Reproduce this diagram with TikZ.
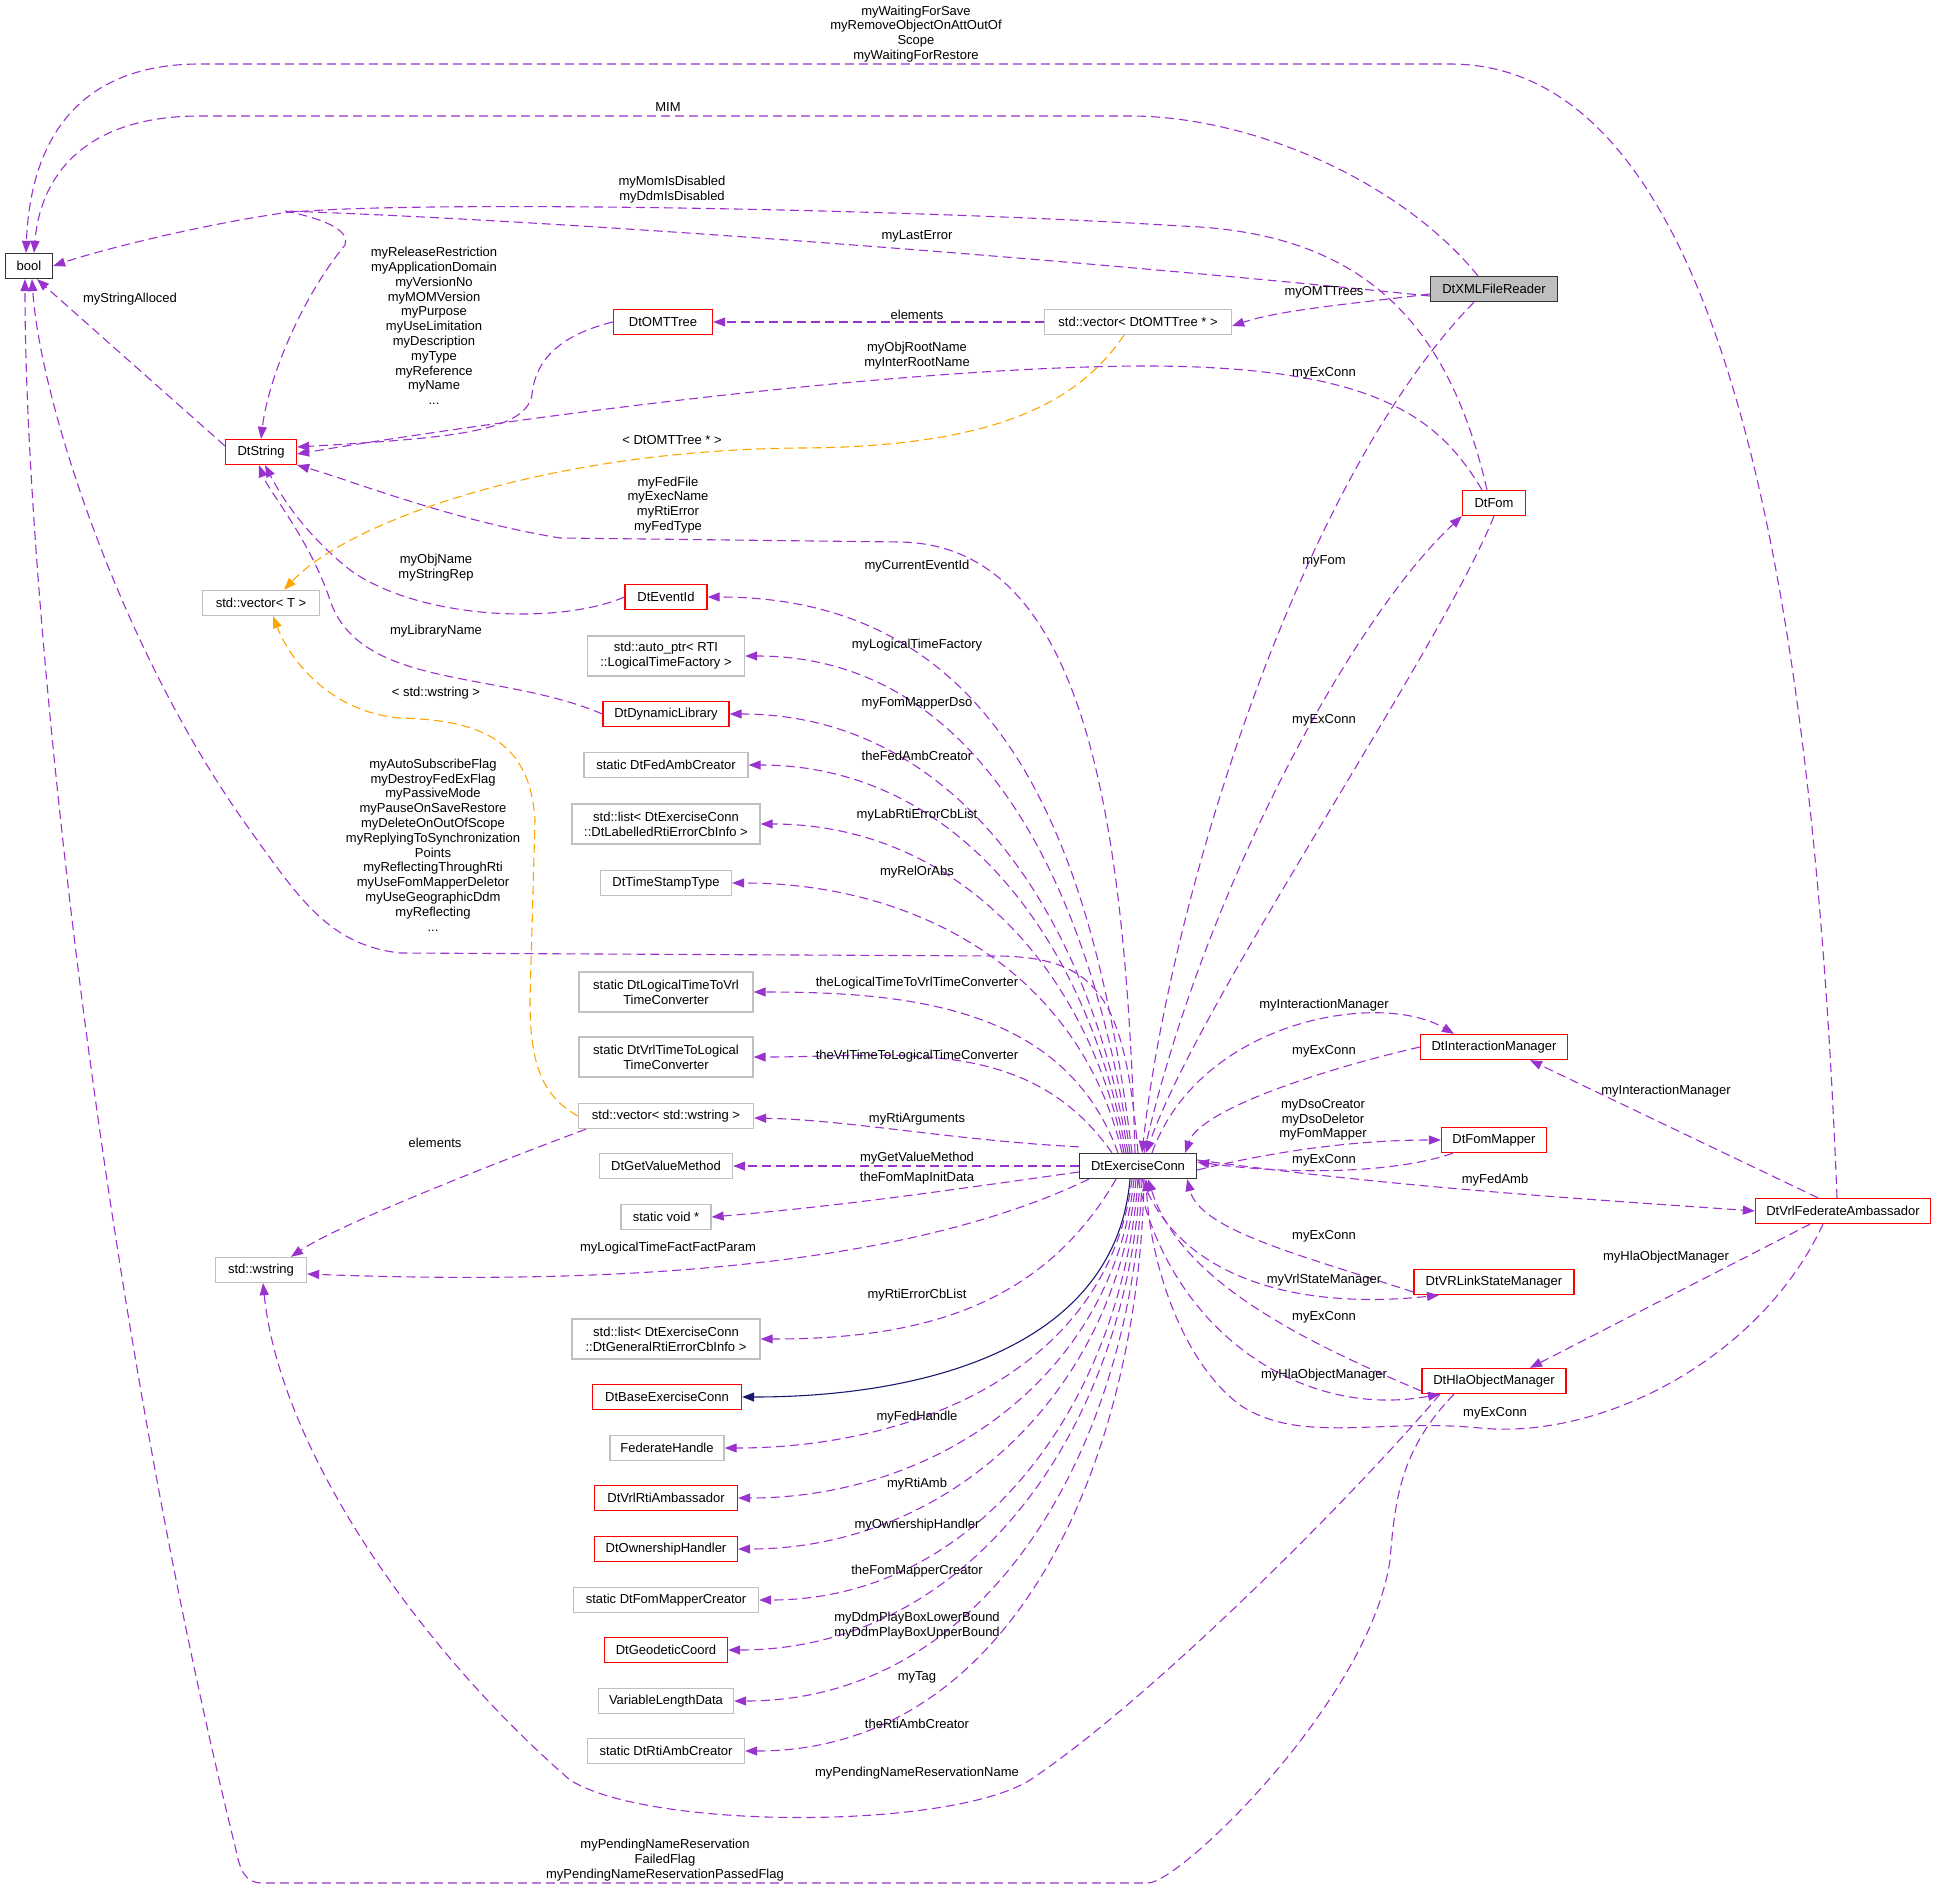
\documentclass[tikz,border=0pt]{standalone}
\usepackage{fontspec}
\setmainfont{Liberation Sans}
\usetikzlibrary{arrows.meta}
\definecolor{ep}{HTML}{9A32CD}
\definecolor{eo}{HTML}{FFA500}
\definecolor{nv}{HTML}{191970}
\definecolor{gb}{HTML}{BFBFBF}
\begin{document}
\begin{tikzpicture}[x=1pt,y=-1pt,
  font=\fontsize{13}{14.8}\selectfont,
  box/.style={draw,line width=1.3pt,minimum height=25pt,inner sep=2pt,align=center,fill=white},
  rb/.style={box,draw=red},
  gbx/.style={box,draw=gb},
  kb/.style={box,draw=black!80},
  e/.style={draw=ep,line width=1.1pt,dash pattern=on 9pt off 5pt,-{Triangle[length=12pt,width=9pt]},ep},
  o/.style={e,draw=eo,eo},
  lb/.style={align=center,inner sep=0pt}]
\useasboundingbox (0,0) rectangle (1936,1889);
% nodes
\node[kb,minimum width=47pt] (bool) at (29,266) {bool};
\node[kb,fill=gb,minimum width=127pt] (xml) at (1494,289) {DtXMLFileReader};
\node[gbx,minimum width=187pt] (vomt) at (1138,322) {std::vector< DtOMTTree * >};
\node[rb,minimum width=99pt] (omt) at (663,322) {DtOMTTree};
\node[rb,minimum width=71pt] (str) at (261,452) {DtString};
\node[rb,minimum width=63pt] (fom) at (1494,503) {DtFom};
\node[gbx,minimum width=117pt] (vt) at (261,603) {std::vector< T >};
\node[rb,minimum width=82pt] (evid) at (666,597) {DtEventId};
\node[gbx,minimum width=157pt,minimum height=40pt] (aptr) at (666,656) {std::auto\_ptr< RTI\\::LogicalTimeFactory >};
\node[rb,minimum width=126pt] (dyn) at (666,714) {DtDynamicLibrary};
\node[gbx,minimum width=164pt] (fac) at (666,765) {static DtFedAmbCreator};
\node[gbx,minimum width=188pt,minimum height=40pt] (llab) at (666,824) {std::list< DtExerciseConn\\::DtLabelledRtiErrorCbInfo >};
\node[gbx,minimum width=131pt] (tst) at (666,883) {DtTimeStampType};
\node[gbx,minimum width=174pt,minimum height=40pt] (l2v) at (666,992) {static DtLogicalTimeToVrl\\TimeConverter};
\node[gbx,minimum width=174pt,minimum height=40pt] (v2l) at (666,1057) {static DtVrlTimeToLogical\\TimeConverter};
\node[gbx,minimum width=175pt] (vws) at (666,1116) {std::vector< std::wstring >};
\node[gbx,minimum width=133pt] (gvm) at (666,1166) {DtGetValueMethod};
\node[gbx,minimum width=90pt] (svd) at (666,1217) {static void *};
\node[gbx,minimum width=91pt] (ws) at (261,1270) {std::wstring};
\node[gbx,minimum width=188pt,minimum height=40pt] (lgen) at (666,1339) {std::list< DtExerciseConn\\::DtGeneralRtiErrorCbInfo >};
\node[rb,minimum width=149pt] (base) at (667,1397) {DtBaseExerciseConn};
\node[gbx,minimum width=114pt] (fh) at (667,1448) {FederateHandle};
\node[rb,minimum width=143pt] (vra) at (666,1498) {DtVrlRtiAmbassador};
\node[rb,minimum width=143pt] (own) at (666,1549) {DtOwnershipHandler};
\node[gbx,minimum width=185pt] (fmc) at (666,1600) {static DtFomMapperCreator};
\node[rb,minimum width=123pt] (geo) at (666,1650) {DtGeodeticCoord};
\node[gbx,minimum width=135pt] (vld) at (666,1701) {VariableLengthData};
\node[gbx,minimum width=157pt] (rac) at (666,1751) {static DtRtiAmbCreator};
\node[kb,minimum width=117pt] (ec) at (1138,1166) {DtExerciseConn};
\node[rb,minimum width=147pt] (im) at (1494,1047) {DtInteractionManager};
\node[rb,minimum width=105pt] (fm) at (1494,1140) {DtFomMapper};
\node[rb,minimum width=175pt] (fa) at (1843,1211) {DtVrlFederateAmbassador};
\node[rb,minimum width=160pt] (vls) at (1494,1282) {DtVRLinkStateManager};
\node[rb,minimum width=144pt] (hla) at (1494,1381) {DtHlaObjectManager};
% edges to bool
\draw[e] ([xshift=-6pt]fa.north) .. controls (1810,500) and (1700,64) .. (1450,64) -- (200,64) .. controls (70,64) and (30,150) .. ([xshift=-3pt]bool.north);
\draw[e] ([xshift=-16pt]xml.north) .. controls (1400,180) and (1250,116) .. (1130,116) -- (200,116) .. controls (80,116) and (40,180) .. ([xshift=5pt]bool.north);
\draw[e] ([xshift=-7pt]fom.north) .. controls (1450,330) and (1370,232) .. (1180,226) .. controls (900,208) and (400,200) .. (283,213) .. controls (200,225) and (100,250) .. (bool.east);
\draw[e] ([yshift=-7pt]str.north west) -- ([xshift=8pt]bool.south);
\draw[e] (ec.north) .. controls (1125,1000) and (1100,958) .. (1000,956) -- (400,953) .. controls (330,945) and (300,900) .. (250,830) .. controls (120,650) and (40,400) .. ([xshift=3pt]bool.south);
\draw[e] ([xshift=-40pt]hla.south) .. controls (1400,1450) and (1395,1500) .. (1390,1560) .. controls (1370,1700) and (1180,1883) .. (1148,1883) -- (262,1883) .. controls (245,1883) and (240,1870) .. (236,1850) .. controls (100,1300) and (25,600) .. ([xshift=-4pt]bool.south);
% edges to DtString
\draw[e] ([yshift=-7pt]xml.west) .. controls (1100,262) and (600,222) .. (285,211) .. controls (330,220) and (350,232) .. (345,245) .. controls (300,300) and (268,380) .. (str.north);
\draw[e] (omt.west) .. controls (560,335) and (535,360) .. (532,395) .. controls (525,432) and (450,438) .. ([yshift=5pt]str.east);
\draw[e] ([xshift=-12pt]fom.north) .. controls (1440,420) and (1380,367) .. (1150,366) .. controls (900,366) and (500,420) .. ([yshift=-2pt]str.east);
\draw[e] ([xshift=-3pt]ec.north) .. controls (1125,800) and (1080,545) .. (900,542) -- (560,538) .. controls (450,520) and (350,480) .. (str.south east);
\draw[e] (evid.west) .. controls (560,625) and (420,620) .. (350,570) .. controls (300,530) and (278,490) .. ([xshift=4pt]str.south);
\draw[e] (dyn.west) .. controls (500,670) and (360,690) .. (330,600) .. controls (310,540) and (268,490) .. ([xshift=-2pt]str.south);
% vectors
\draw[e] ([yshift=-5pt]xml.west) .. controls (1350,304) and (1280,310) .. ([yshift=-4pt]vomt.east);
\draw[e] (vomt.west) -- (omt.east);
\draw[o] ([xshift=-14pt]vomt.south) .. controls (1080,400) and (1000,447) .. (800,448) .. controls (550,450) and (350,520) .. ([xshift=23pt]vt.north);
\draw[o] (vws.west) .. controls (540,1095) and (530,1060) .. (530,1000) -- (535,820) .. controls (530,740) and (480,720) .. (400,718) .. controls (330,712) and (290,660) .. ([xshift=12pt]vt.south);
\draw[e] ([xshift=8pt]vws.south west) .. controls (450,1180) and (330,1230) .. ([xshift=30pt]ws.north);
% ExerciseConn to left column
\draw[e] ([xshift=-6pt]ec.north) to[out=97,in=0,looseness=1.1] (evid.east);
\draw[e] ([xshift=-8pt]ec.north) to[out=98,in=0] (aptr.east);
\draw[e] ([xshift=-10pt]ec.north) to[out=99,in=0] (dyn.east);
\draw[e] ([xshift=-12pt]ec.north) to[out=100,in=0] (fac.east);
\draw[e] ([xshift=-14pt]ec.north) to[out=101,in=0] (llab.east);
\draw[e] ([xshift=-16pt]ec.north) to[out=103,in=0] (tst.east);
\draw[e] ([xshift=-20pt]ec.north) to[out=110,in=0] (l2v.east);
\draw[e] ([xshift=-26pt]ec.north) to[out=125,in=0] (v2l.east);
\draw[e] ([yshift=6pt]ec.north west) .. controls (950,1140) and (850,1120) .. ([yshift=-2pt]vws.east);
\draw[e] (ec.west) -- (gvm.east);
\draw[e] ([yshift=-6pt]ec.west) .. controls (950,1190) and (850,1205) .. (svd.east);
\draw[e] ([xshift=10pt]ec.south west) .. controls (900,1270) and (600,1285) .. ([yshift=-4pt]ws.east);
\draw[e] ([xshift=-22pt]ec.south) to[out=-120,in=0] (lgen.east);
\draw[draw=nv,line width=1.1pt,-{Triangle[length=12pt,width=9pt]},nv] ([xshift=-8pt]ec.south) to[out=-95,in=0] (base.east);
\draw[e] ([xshift=-6pt]ec.south) to[out=-97,in=0] (fh.east);
\draw[e] ([xshift=-4pt]ec.south) to[out=-96,in=0] (vra.east);
\draw[e] ([xshift=-2pt]ec.south) to[out=-95,in=0] (own.east);
\draw[e] (ec.south) to[out=-94,in=0] (fmc.east);
\draw[e] ([xshift=2pt]ec.south) to[out=-93,in=0] (geo.east);
\draw[e] ([xshift=4pt]ec.south) to[out=-92,in=0] (vld.east);
\draw[e] ([xshift=6pt]ec.south) to[out=-91,in=0] (rac.east);
\draw[e] ([xshift=-54pt]hla.south) .. controls (1350,1500) and (1150,1700) .. (1030,1780) .. controls (950,1830) and (650,1830) .. (570,1780) .. controls (420,1650) and (280,1450) .. ([xshift=2pt]ws.south);
% right side
\draw[e] ([xshift=-20pt]xml.south) .. controls (1300,480) and (1170,900) .. ([xshift=4pt]ec.north);
\draw[e] ([xshift=6pt]ec.north) .. controls (1200,900) and (1350,620) .. (fom.south west);
\draw[e] (fom.south) .. controls (1440,650) and (1200,1000) .. ([xshift=8pt]ec.north);
\draw[e] ([xshift=14pt]ec.north) .. controls (1200,1020) and (1380,990) .. ([xshift=-40pt]im.north);
\draw[e] (im.west) .. controls (1320,1070) and (1200,1110) .. ([xshift=-12pt]ec.north east);
\draw[e] ([yshift=-4pt]ec.east) .. controls (1300,1145) and (1380,1140) .. (fm.west);
\draw[e] ([xshift=12pt]fm.south west) .. controls (1400,1172) and (1300,1176) .. ([yshift=4pt]ec.east);
\draw[e] ([yshift=6pt]ec.east) .. controls (1400,1188) and (1600,1200) .. (fa.west);
\draw[e] ([yshift=-10pt]vls.west) .. controls (1300,1255) and (1200,1230) .. ([xshift=-10pt]ec.south east);
\draw[e] ([xshift=4pt]ec.south) .. controls (1180,1280) and (1300,1310) .. ([xshift=-55pt]vls.south);
\draw[e] ([yshift=-10pt]hla.west) .. controls (1300,1340) and (1180,1280) .. ([xshift=10pt]ec.south);
\draw[e] ([xshift=0pt]ec.south) .. controls (1170,1330) and (1300,1420) .. ([xshift=-54pt]hla.south);
\draw[e] ([xshift=-20pt]fa.south) .. controls (1760,1360) and (1600,1440) .. (1480,1428) .. controls (1380,1418) and (1300,1445) .. (1240,1405) .. controls (1180,1360) and (1150,1260) .. ([xshift=8pt]ec.south);
\draw[e] ([xshift=-25pt]fa.north) -- ([xshift=36pt]im.south);
\draw[e] ([xshift=-33pt]fa.south) -- ([xshift=36pt]hla.north);
% labels
\node[lb] at (916,34) {myWaitingForSave\\myRemoveObjectOnAttOutOf\\Scope\\myWaitingForRestore};
\node[lb] at (668,107) {MIM};
\node[lb] at (672,190) {myMomIsDisabled\\myDdmIsDisabled};
\node[lb] at (917,236) {myLastError};
\node[lb] at (1324,292) {myOMTTrees};
\node[lb] at (917,315) {elements};
\node[lb] at (434,326) {myReleaseRestriction\\myApplicationDomain\\myVersionNo\\myMOMVersion\\myPurpose\\myUseLimitation\\myDescription\\myType\\myReference\\myName\\...};
\node[lb] at (130,299) {myStringAlloced};
\node[lb] at (917,356) {myObjRootName\\myInterRootName};
\node[lb] at (1324,373) {myExConn};
\node[lb] at (672,440) {< DtOMTTree * >};
\node[lb] at (668,505) {myFedFile\\myExecName\\myRtiError\\myFedType};
\node[lb] at (436,568) {myObjName\\myStringRep};
\node[lb] at (436,631) {myLibraryName};
\node[lb] at (436,693) {< std::wstring >};
\node[lb] at (433,845) {myAutoSubscribeFlag\\myDestroyFedExFlag\\myPassiveMode\\myPauseOnSaveRestore\\myDeleteOnOutOfScope\\myReplyingToSynchronization\\Points\\myReflectingThroughRti\\myUseFomMapperDeletor\\myUseGeographicDdm\\myReflecting\\...};
\node[lb] at (1324,561) {myFom};
\node[lb] at (1324,720) {myExConn};
\node[lb] at (917,566) {myCurrentEventId};
\node[lb] at (917,645) {myLogicalTimeFactory};
\node[lb] at (917,703) {myFomMapperDso};
\node[lb] at (917,756) {theFedAmbCreator};
\node[lb] at (917,815) {myLabRtiErrorCbList};
\node[lb] at (917,872) {myRelOrAbs};
\node[lb] at (917,983) {theLogicalTimeToVrlTimeConverter};
\node[lb] at (917,1056) {theVrlTimeToLogicalTimeConverter};
\node[lb] at (917,1119) {myRtiArguments};
\node[lb] at (917,1158) {myGetValueMethod};
\node[lb] at (917,1178) {theFomMapInitData};
\node[lb] at (435,1143) {elements};
\node[lb] at (668,1248) {myLogicalTimeFactFactParam};
\node[lb] at (917,1295) {myRtiErrorCbList};
\node[lb] at (917,1417) {myFedHandle};
\node[lb] at (917,1484) {myRtiAmb};
\node[lb] at (917,1525) {myOwnershipHandler};
\node[lb] at (917,1571) {theFomMapperCreator};
\node[lb] at (917,1626) {myDdmPlayBoxLowerBound\\myDdmPlayBoxUpperBound};
\node[lb] at (917,1677) {myTag};
\node[lb] at (917,1724) {theRtiAmbCreator};
\node[lb] at (917,1773) {myPendingNameReservationName};
\node[lb] at (665,1860) {myPendingNameReservation\\FailedFlag\\myPendingNameReservationPassedFlag};
\node[lb] at (1324,1005) {myInteractionManager};
\node[lb] at (1324,1051) {myExConn};
\node[lb] at (1323,1120) {myDsoCreator\\myDsoDeletor\\myFomMapper};
\node[lb] at (1324,1160) {myExConn};
\node[lb] at (1495,1180) {myFedAmb};
\node[lb] at (1666,1091) {myInteractionManager};
\node[lb] at (1324,1236) {myExConn};
\node[lb] at (1324,1280) {myVrlStateManager};
\node[lb] at (1324,1317) {myExConn};
\node[lb] at (1666,1257) {myHlaObjectManager};
\node[lb] at (1324,1375) {myHlaObjectManager};
\node[lb] at (1495,1413) {myExConn};
\end{tikzpicture}
\end{document}
